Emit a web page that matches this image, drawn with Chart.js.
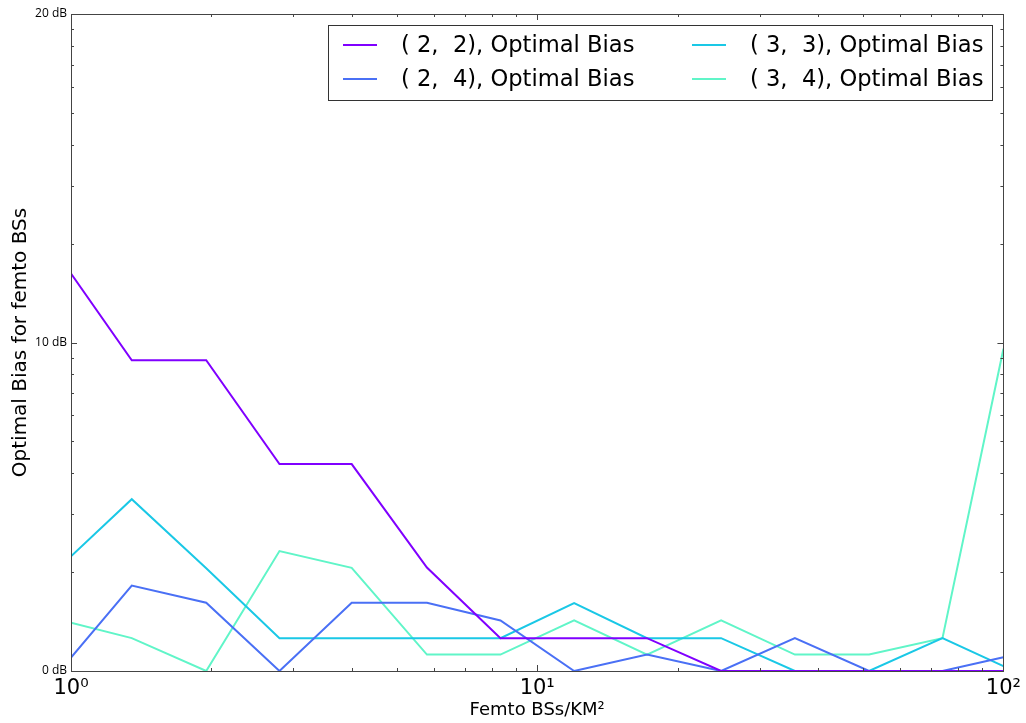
<!DOCTYPE html>
<html lang="en">
<head>
  <meta charset="UTF-8">
  <title>Optimal Bias for femto BSs</title>
  <script src="https://cdn.jsdelivr.net/npm/chart.js"></script>
  <style>
    body {
      margin: 0;
      padding: 0;
      background-color: #ffffff;
    }
    .chart-container {
      position: relative;
      width: 1026px;
      height: 723px;
    }
  </style>
</head>
<body>
  <div class="chart-container">
    <canvas id="biasChart"></canvas>
  </div>

  <script>
    // Femto BS density (per km^2), log spaced
    const densities = [1, 1.35, 1.95, 2.8, 4.0, 5.8, 8.34, 12.0, 17.2, 24.8, 35.7, 51.5, 74.0, 100];

    // optimal bias in dB
    const bias22 = [12.1, 9.46, 9.46, 6.3, 6.3, 3.15, 1.0, 1.0, 1.0, 0, 0, 0, 0, 0];
    const bias24 = [0.41, 2.6, 2.08, 0, 2.08, 2.08, 1.54, 0, 0.5, 0, 1.0, 0, 0, 0.42];
    const bias33 = [3.49, 5.23, 3.13, 1.0, 1.0, 1.0, 1.0, 2.07, 1.0, 1.0, 0, 0, 1.0, 0.15];
    const bias34 = [1.47, 1.0, 0, 3.65, 3.14, 0.5, 0.5, 1.54, 0.5, 1.54, 0.5, 0.5, 1.0, 9.81];

    const seriesLabels = [
      "( 2,  2), Optimal Bias",
      "( 2,  4), Optimal Bias",
      "( 3,  3), Optimal Bias",
      "( 3,  4), Optimal Bias"
    ];
    const seriesColors = ["#8000ff", "#4a70f5", "#1ac8e6", "#60f5c8"];

    // tick positions
    const xTickValues = [1, 2, 3, 4, 5, 6, 7, 8, 9, 10, 20, 30, 40, 50, 60, 70, 80, 90, 100];
    const xTickLabels = { 1: "10\u2070", 10: "10\u00b9", 100: "10\u00b2" };
    const yMinorSteps = [1, 2, 3, 4, 5, 6, 7, 8, 9];
    const yTickValues = [0, 10].flatMap(base => yMinorSteps.map(k => base + 10 * Math.log10(k))).concat([20]);
    const yTickLabels = { 0: "0 dB", 10: "10 dB", 20: "20 dB" };

    function toPoints(values) {
      return values.map((v, i) => ({ x: densities[i], y: v }));
    }

    const allSeries = [bias22, bias24, bias33, bias34];
    const datasets = allSeries.map((values, i) => ({
      label: seriesLabels[i],
      data: toPoints(values),
      borderColor: seriesColors[i],
      backgroundColor: seriesColors[i],
      borderWidth: 2,
      pointRadius: 0,
      tension: 0,
      fill: false
    }));

    function isMajorX(v) {
      const l = Math.log10(v);
      return Math.abs(l - Math.round(l)) < 1e-9;
    }
    function isMajorY(v) {
      return Math.abs(v % 10) < 1e-9;
    }

    // matplotlib style frame with inward ticks on all four sides
    const framePlugin = {
      id: "frame",
      afterDatasetsDraw(chart) {
        const ctx = chart.ctx;
        const area = chart.chartArea;
        const xs = chart.scales.x;
        const ys = chart.scales.y;
        ctx.save();
        ctx.strokeStyle = "#444444";
        ctx.lineWidth = 1;
        ctx.beginPath();
        xs.ticks.forEach(t => {
          const px = Math.round(xs.getPixelForValue(t.value)) + 0.5;
          const len = isMajorX(t.value) ? 6 : 3;
          ctx.moveTo(px, area.bottom);
          ctx.lineTo(px, area.bottom - len);
          ctx.moveTo(px, area.top);
          ctx.lineTo(px, area.top + len);
        });
        ys.ticks.forEach(t => {
          const py = Math.round(ys.getPixelForValue(t.value)) + 0.5;
          const len = isMajorY(t.value) ? 6 : 3;
          ctx.moveTo(area.left, py);
          ctx.lineTo(area.left + len, py);
          ctx.moveTo(area.right, py);
          ctx.lineTo(area.right - len, py);
        });
        ctx.stroke();
        ctx.strokeRect(Math.round(area.left) + 0.5, Math.round(area.top) + 0.5,
          Math.round(area.right - area.left), Math.round(area.bottom - area.top));
        ctx.restore();
      }
    };

    // two column legend, filled column by column
    const legendPlugin = {
      id: "boxLegend",
      afterDraw(chart) {
        const ctx = chart.ctx;
        const box = { x: 328.5, y: 25.5, w: 664, h: 75 };
        const colX = [343, 692];
        const rowY = [45, 79];
        ctx.save();
        ctx.fillStyle = "#ffffff";
        ctx.fillRect(box.x, box.y, box.w, box.h);
        ctx.strokeStyle = "#333333";
        ctx.lineWidth = 1;
        ctx.strokeRect(box.x, box.y, box.w, box.h);
        ctx.font = "22.6px 'DejaVu Sans'";
        ctx.textBaseline = "middle";
        ctx.fillStyle = "#000000";
        chart.data.datasets.forEach((ds, i) => {
          const cx = colX[Math.floor(i / 2)];
          const cy = rowY[i % 2];
          ctx.strokeStyle = ds.borderColor;
          ctx.lineWidth = 2;
          ctx.beginPath();
          ctx.moveTo(cx, cy);
          ctx.lineTo(cx + 34, cy);
          ctx.stroke();
          ctx.fillText(ds.label, cx + 58, cy + 1);
        });
        ctx.restore();
      }
    };

    Chart.defaults.font.family = "'DejaVu Sans', sans-serif";
    Chart.defaults.color = "#000000";

    const ctx = document.getElementById("biasChart").getContext("2d");
    new Chart(ctx, {
      type: "line",
      data: { datasets: datasets },
      plugins: [framePlugin, legendPlugin],
      options: {
        responsive: true,
        maintainAspectRatio: false,
        animation: false,
        layout: { padding: { top: 14, right: 21, left: 0, bottom: 0 } },
        plugins: {
          legend: { display: false },
          tooltip: { enabled: false }
        },
        scales: {
          x: {
            type: "logarithmic",
            min: 1,
            max: 100,
            afterBuildTicks: scale => {
              scale.ticks = xTickValues.map(v => ({ value: v }));
            },
            afterFit: scale => { scale.height = 52; },
            grid: { display: false, drawTicks: false },
            border: { display: false },
            ticks: {
              autoSkip: false,
              maxRotation: 0,
              padding: 5,
              font: { size: 21 },
              callback: v => xTickLabels[v] || ""
            },
            title: {
              display: true,
              text: "Femto BSs/KM\u00b2",
              font: { size: 18 },
              padding: { top: 0, bottom: 2 }
            }
          },
          y: {
            type: "linear",
            min: 0,
            max: 20,
            afterBuildTicks: scale => {
              scale.ticks = yTickValues.map(v => ({ value: v }));
            },
            afterFit: scale => { scale.width = 71; },
            grid: { display: false, drawTicks: false },
            border: { display: false },
            ticks: {
              autoSkip: false,
              padding: 4,
              font: { family: "'Open Sans', sans-serif", size: 12 },
              callback: v => {
                const r = Math.round(v * 1000) / 1000;
                return yTickLabels[r] || "";
              }
            },
            title: {
              display: true,
              text: "Optimal Bias for femto BSs",
              font: { size: 20 },
              padding: { top: 9, bottom: 0 }
            }
          }
        }
      }
    });
  </script>
</body>
</html>
